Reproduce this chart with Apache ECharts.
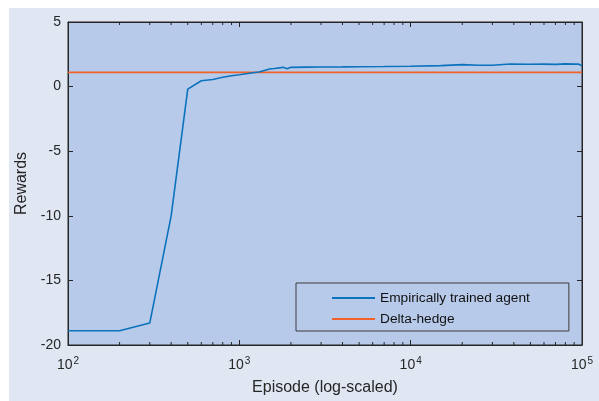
<!DOCTYPE html>
<html>
<head>
<meta charset="utf-8">
<script src="https://cdn.jsdelivr.net/npm/echarts@6/dist/echarts.min.js"></script>
<style>
html,body{margin:0;padding:0;background:#ffffff;}
#bg{position:absolute;left:9px;top:8px;width:590px;height:393px;background:#e0e7f3;}
#chart{position:absolute;left:0;top:0;width:599px;height:401px;}
</style>
</head>
<body>
<div id="bg"></div>
<div id="chart"></div>
<script>
// Data
const episodes = [100, 200, 300, 400, 500, 600, 700, 800, 900, 1000, 1100, 1200, 1300, 1400, 1500, 1600, 1800, 1900, 2000, 2500, 3000, 4000, 5000, 7000, 10000, 15000, 20000, 25000, 30000, 38000, 50000, 60000, 70000, 80000, 90000, 95000, 100000];
const agentRewards = [-18.9, -18.9, -18.3, -10.0, -0.2, 0.45, 0.55, 0.72, 0.84, 0.92, 1.0, 1.07, 1.13, 1.25, 1.36, 1.40, 1.49, 1.38, 1.49, 1.51, 1.52, 1.53, 1.54, 1.55, 1.57, 1.62, 1.70, 1.65, 1.65, 1.75, 1.73, 1.74, 1.72, 1.76, 1.74, 1.75, 1.62];
const deltaX = [100, 100000];
const deltaY = [1.1, 1.1];
const minorTickValues = [200,300,400,500,600,700,800,900,2000,3000,4000,5000,6000,7000,8000,9000,20000,30000,40000,50000,60000,70000,80000,90000];
const yTicks = [-20, -15, -10, -5, 0, 5];

const textColor = '#262626';
const font = '"Liberation Sans", Arial, Helvetica, sans-serif';

const chart = echarts.init(document.getElementById('chart'), null, {renderer: 'canvas'});

const xAxisBase = {
  type: 'log', logBase: 10, min: 100, max: 100000,
  splitLine: {show: false},
  axisLine: {show: true, onZero: false, lineStyle: {color: textColor, width: 1}},
  axisTick: {show: true, inside: true, length: 5, lineStyle: {color: textColor}},
};
const yAxisBase = {
  type: 'value', min: yTicks[0], max: yTicks[yTicks.length - 1], interval: 5,
  splitLine: {show: false},
  axisLine: {show: true, onZero: false, lineStyle: {color: textColor, width: 1}},
  axisTick: {show: true, inside: true, length: 5, lineStyle: {color: textColor}},
};

chart.setOption({
  backgroundColor: 'transparent',
  animation: false,
  textStyle: {fontFamily: font},
  grid: {left: 68, right: 17, top: 22, bottom: 56, show: true, backgroundColor: '#b7cae9', borderColor: textColor, borderWidth: 1},
  legend: {
    show: true,
    data: ['Empirically trained agent', 'Delta-hedge'],
    orient: 'vertical', align: 'left',
    left: 296, top: 283,
    padding: [8, 39, 5, 36],
    itemGap: 7,
    itemWidth: 43, itemHeight: 2,
    icon: 'rect',
    backgroundColor: '#b7cae9',
    borderColor: '#3a3a3a', borderWidth: 1,
    textStyle: {fontSize: 13.7, color: '#111', fontFamily: font}
  },
  xAxis: [
    Object.assign({}, xAxisBase, {
      position: 'bottom',
      name: 'Episode (log-scaled)', nameLocation: 'middle', nameGap: 35,
      nameTextStyle: {fontSize: 16, color: textColor, fontFamily: font},
      axisLabel: {
        show: true, margin: 11, color: textColor,
        formatter: function (v) {
          const e = Math.round(Math.log10(v));
          return '{b|10}{s|' + e + '}';
        },
        rich: {
          b: {fontSize: 14, color: textColor, fontFamily: font},
          s: {fontSize: 10, color: textColor, fontFamily: font, verticalAlign: 'bottom', padding: [0, 0, 9, 1]}
        }
      }
    }),
    Object.assign({}, xAxisBase, {position: 'top', axisLabel: {show: false}})
  ],
  yAxis: [
    Object.assign({}, yAxisBase, {
      position: 'left',
      name: 'Rewards', nameLocation: 'middle', nameGap: 38, nameRotate: 90,
      nameTextStyle: {fontSize: 16, color: textColor, fontFamily: font},
      axisLabel: {show: true, margin: 7, fontSize: 14, color: textColor, fontFamily: font}
    }),
    Object.assign({}, yAxisBase, {position: 'right', axisLabel: {show: false}})
  ],
  series: [
    {
      name: 'Empirically trained agent', type: 'line', xAxisIndex: 0, yAxisIndex: 0,
      data: episodes.map((x, i) => [x, agentRewards[i]]),
      showSymbol: false, symbol: 'none',
      lineStyle: {color: '#0b72bd', width: 1.6},
      itemStyle: {color: '#0b72bd'},
      z: 3
    },
    {
      name: 'Delta-hedge', type: 'line', xAxisIndex: 0, yAxisIndex: 0,
      data: deltaX.map((x, i) => [x, deltaY[i]]),
      showSymbol: false, symbol: 'none',
      lineStyle: {color: '#f0622a', width: 1.6},
      itemStyle: {color: '#f0622a'},
      z: 2
    },
    {
      name: 'minorTicks', type: 'custom', xAxisIndex: 0, yAxisIndex: 0,
      silent: true, clip: false, z: 5,
      data: minorTickValues.map(v => [v, 0]),
      encode: {x: 0, y: 1},
      renderItem: function (params, api) {
        const x = api.coord([api.value(0), 0])[0];
        const cs = params.coordSys;
        const bottom = cs.y + cs.height;
        const top = cs.y;
        return {
          type: 'group',
          children: [
            {type: 'line', shape: {x1: x, y1: bottom, x2: x, y2: bottom - 3}, style: {stroke: textColor, lineWidth: 1}},
            {type: 'line', shape: {x1: x, y1: top, x2: x, y2: top + 3}, style: {stroke: textColor, lineWidth: 1}}
          ]
        };
      }
    }
  ]
});
</script>
</body>
</html>
